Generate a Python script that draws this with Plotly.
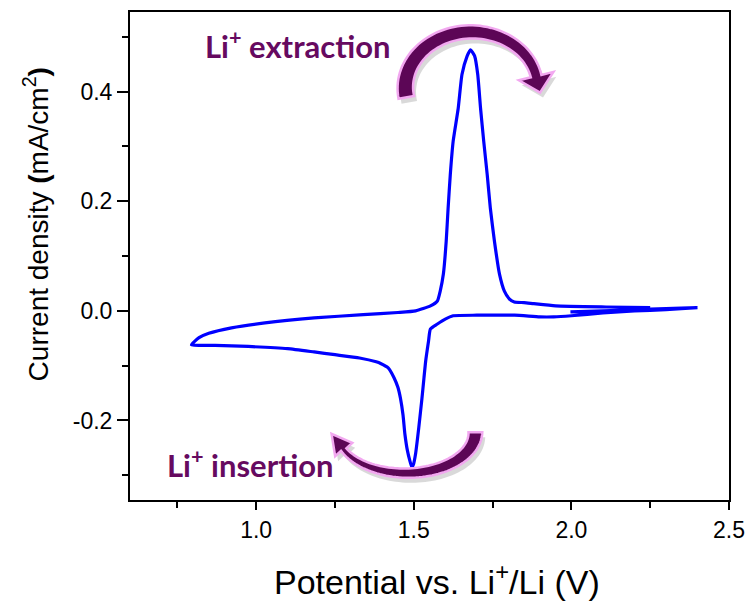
import math
import plotly.graph_objects as go

# ---------------- data ----------------
potential_V = [
    # initial anodic segment 2.0 -> 2.4
    1.997, 2.10, 2.20, 2.30, 2.40,
    # cathodic scan 2.4 -> 0.8
    2.30, 2.20, 2.10, 2.00, 1.944, 1.90, 1.82, 1.70, 1.625, 1.60, 1.575, 1.553, 1.547,
    1.538, 1.532, 1.526, 1.516, 1.506, 1.499, 1.494, 1.488, 1.480, 1.472, 1.466, 1.458,
    1.450, 1.4375, 1.419, 1.395, 1.381, 1.328, 1.25, 1.184, 1.10, 0.975, 0.87, 0.795,
    # anodic scan 0.8 -> 2.4
    0.819, 0.85, 0.922, 1.028, 1.184, 1.34, 1.45, 1.506, 1.553, 1.575, 1.584, 1.594,
    1.603, 1.609, 1.616, 1.625, 1.641, 1.653, 1.669, 1.680, 1.693, 1.703, 1.712, 1.722,
    1.733, 1.743, 1.756, 1.772, 1.7875, 1.803, 1.819, 1.85, 1.881, 1.95, 2.11, 2.25, 2.40,
]
current_mA_cm2 = [
    -0.002, 0.000, 0.002, 0.004, 0.006,
    0.002, 0.000, -0.004, -0.009, -0.011, -0.011, -0.008, -0.008, -0.009, -0.015, -0.024,
    -0.033, -0.055, -0.091, -0.125, -0.160, -0.213, -0.260, -0.280, -0.285, -0.274,
    -0.255, -0.225, -0.190, -0.160, -0.140, -0.122, -0.104, -0.096, -0.093, -0.086,
    -0.080, -0.075, -0.069, -0.065, -0.063, -0.062,
    -0.049, -0.041, -0.031, -0.022, -0.013, -0.007, -0.003, 0.000, 0.009, 0.018, 0.036,
    0.067, 0.127, 0.187, 0.249, 0.309, 0.369, 0.431, 0.464, 0.476, 0.465, 0.431, 0.369,
    0.309, 0.249, 0.187, 0.127, 0.067, 0.036, 0.022, 0.016, 0.015, 0.013, 0.009, 0.007,
    0.006,
]

x_tick_vals = [1.0, 1.5, 2.0, 2.5]
x_tick_text = ["1.0", "1.5", "2.0", "2.5"]
y_tick_vals = [-0.2, 0.0, 0.2, 0.4]
y_tick_text = ["-0.2", "0.0", "0.2", "0.4"]

x_title = "Potential vs. Li<sup>+</sup>/Li (V)"
y_title = "Current density <b>(</b>mA/cm<sup>2</sup><b>)</b>"
label_extraction = "Li<sup>+</sup> extraction"
label_insertion = "Li<sup>+</sup> insertion"

# ---------------- layout geometry ----------------
W, H = 755, 601
L, R, T, B = 130, 737, 10, 500


def pp(px, py):
    return ((px - L) / (R - L), (B - py) / (B - T))


def to_path(points):
    pts = [pp(x, y) for x, y in points]
    return "M " + " L ".join(f"{x:.4f},{y:.4f}" for x, y in pts) + " Z"


def curved_arrow(cx, cy, rx, ry, th0, th1, t0, t1, head_w, head_len, ysign, n=60):
    """Arc band on an ellipse from th0 to th1 (deg), thickness t0->t1, arrowhead at th1."""
    outer, inner = [], []
    for i in range(n + 1):
        f = i / n
        th = math.radians(th0 + (th1 - th0) * f)
        t = t0 + (t1 - t0) * f
        c, s = math.cos(th), math.sin(th)
        outer.append((cx + (rx + t / 2) * c, cy + ysign * (ry + t / 2) * s))
        inner.append((cx + (rx - t / 2) * c, cy + ysign * (ry - t / 2) * s))
    th = math.radians(th1)
    mid = (cx + rx * math.cos(th), cy + ysign * ry * math.sin(th))
    d = math.radians(1) * (1 if th1 > th0 else -1)
    nxt = (cx + rx * math.cos(th + d), cy + ysign * ry * math.sin(th + d))
    dx, dy = nxt[0] - mid[0], nxt[1] - mid[1]
    norm = math.hypot(dx, dy)
    dx, dy = dx / norm, dy / norm
    nx, ny = -dy, dx
    tip = (mid[0] + dx * head_len, mid[1] + dy * head_len)
    w1 = (mid[0] + nx * head_w, mid[1] + ny * head_w)
    w2 = (mid[0] - nx * head_w, mid[1] - ny * head_w)
    o_end = outer[-1]
    if math.hypot(w1[0] - o_end[0], w1[1] - o_end[1]) > math.hypot(w2[0] - o_end[0], w2[1] - o_end[1]):
        w1, w2 = w2, w1
    return outer + [w1, tip, w2] + inner[::-1]


arrow_top = curved_arrow(476, 86, 67, 56, 190, 12, 16, 11, 18, 17, ysign=-1)
arrow_bot = curved_arrow(410, 432, 70, 41, 0, 155, 14, 6, 11, 20, ysign=1)

fill_col = "#5c0656"
edge_col = "#f2a8f0"
text_col = "#660a60"

shapes = []
for pts in (arrow_top, arrow_bot):
    shadow = [(x + 3, y + 5) for x, y in pts]
    shapes.append(dict(type="path", xref="paper", yref="paper", path=to_path(shadow),
                       fillcolor="rgba(0,0,0,0.15)", line=dict(width=0), layer="above"))
for pts in (arrow_top, arrow_bot):
    shapes.append(dict(type="path", xref="paper", yref="paper", path=to_path(pts),
                       fillcolor=fill_col, line=dict(color=edge_col, width=2.5), layer="above"))

fig = go.Figure()
fig.add_trace(go.Scatter(
    x=potential_V, y=current_mA_cm2, mode="lines",
    line=dict(color="#0000ff", width=3.2, shape="spline", smoothing=0.5),
    showlegend=False, hoverinfo="skip",
))

ax_common = dict(
    showline=True, linecolor="black", linewidth=2, mirror=True,
    ticks="outside", tickcolor="black", tickwidth=2,
    showgrid=False, zeroline=False,
    tickfont=dict(family="Liberation Sans, Arial", size=23, color="black"),
    minor=dict(ticks="outside", ticklen=6, tickwidth=2, tickcolor="black"),
)

fig.update_xaxes(
    range=[0.6, 2.5], tickmode="array", tickvals=x_tick_vals, ticktext=x_tick_text,
    minor_dtick=0.25, minor_tick0=0.5, ticklen=8,
    **ax_common,
)
fig.update_yaxes(
    range=[-0.345, 0.545], tickmode="array", tickvals=y_tick_vals, ticktext=y_tick_text,
    minor_dtick=0.1, minor_tick0=0.0, ticklen=11,
    **ax_common,
)

ex_x, ex_y = pp(300, 43)
in_x, in_y = pp(252, 463)
xt_x, xt_y = pp(441, 580)
yt_x, yt_y = pp(35, 223)
axis_font = dict(family="Liberation Sans, Arial", color="black")
fig.update_layout(
    width=W, height=H,
    margin=dict(l=L, r=W - R, t=T, b=H - B),
    paper_bgcolor="white", plot_bgcolor="white",
    shapes=shapes,
    annotations=[
        dict(x=xt_x, y=xt_y, xref="paper", yref="paper", xanchor="center", yanchor="middle",
             text=x_title, showarrow=False, font=dict(size=34, **axis_font)),
        dict(x=yt_x, y=yt_y, xref="paper", yref="paper", xanchor="center", yanchor="middle",
             text=y_title, textangle=-90, showarrow=False, font=dict(size=28, **axis_font)),
        dict(x=ex_x, y=ex_y, xref="paper", yref="paper", xanchor="center", yanchor="middle",
             text=f"<b>{label_extraction}</b>",
             showarrow=False, font=dict(family="Lato", size=31, color=text_col)),
        dict(x=in_x, y=in_y, xref="paper", yref="paper", xanchor="center", yanchor="middle",
             text=f"<b>{label_insertion}</b>",
             showarrow=False, font=dict(family="Lato", size=31, color=text_col)),
    ],
)

fig.write_html("out.html")
